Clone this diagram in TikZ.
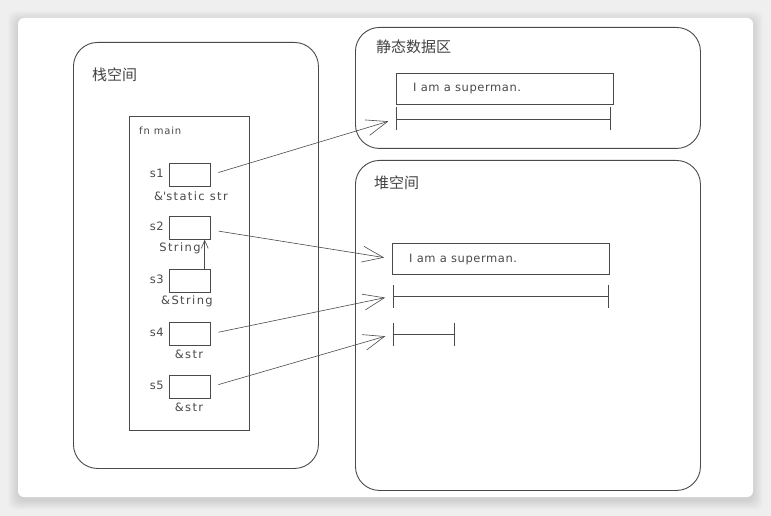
\documentclass[tikz,border=0pt]{standalone}
\usepackage{fontspec}
\setmainfont{DejaVu Sans}
\newfontfamily\cjk{Noto Sans CJK SC}
\usetikzlibrary{arrows.meta,calc}
\definecolor{ink}{HTML}{4A4A4A}
\definecolor{bg}{HTML}{EFEFEF}
\tikzset{
  region/.style={draw=ink, line width=0.9pt, rounded corners=24pt, anchor=north west, inner sep=0pt},
  framebox/.style={draw=ink, line width=0.7pt, anchor=north west, inner sep=0pt},
  slot/.style={draw=ink, line width=0.7pt, minimum width=41pt, minimum height=23pt, inner sep=0pt, anchor=north west},
  title/.style={font=\cjk\fontsize{15}{15}\selectfont, text=ink!90!black, anchor=west, inner sep=0pt},
  varname/.style={font=\fontsize{11.5}{11.5}\selectfont\addfontfeature{LetterSpace=5}, text=ink, anchor=east, inner sep=0pt},
  typename/.style={font=\fontsize{11.5}{11.5}\selectfont\addfontfeature{LetterSpace=12}, text=ink, inner sep=0pt},
  strtext/.style={font=\fontsize{11.5}{11.5}\selectfont\addfontfeature{LetterSpace=5}, text=ink, anchor=west, inner sep=0pt},
  span/.style={draw=ink, line width=0.7pt, {Bar[width=23pt]}-{Bar[width=23pt]}},
  ptr/.style={draw=ink, line width=0.6pt, -{Straight Barb[length=21pt,width=16pt,line width=0.6pt]}, shorten <=8pt, shorten >=8pt},
  smallptr/.style={draw=ink, line width=0.6pt, -{Straight Barb[length=8pt,width=7pt,line width=0.6pt]}}
}
\begin{document}
\begin{tikzpicture}[x=1pt,y=-1pt]
\useasboundingbox (0,0) rectangle (771,516);
\fill[bg] (0,0) rectangle (771,516);
\foreach \i in {1,...,10}{
  \fill[black,opacity=0.012,rounded corners=8pt] (18-\i,18-\i+3) rectangle (753+\i,497+\i+3);
}
\fill[white,rounded corners=6pt] (18,18) rectangle (753,497);

% regions
\node[region, minimum width=245pt, minimum height=426pt] (stack) at (73,42) {};
\node[region, minimum width=345pt, minimum height=121pt] (static) at (355,27) {};
\node[region, minimum width=345pt, minimum height=330pt] (heap) at (355,160) {};

\node[title] (stacklbl) at (92,75) {栈空间};
\node[title] (staticlbl) at (376,47) {静态数据区};
\node[title] (heaplbl) at (374,183) {堆空间};

% fn main frame
\node[framebox, minimum width=120pt, minimum height=314pt] (fnmain) at (129,116) {};
\node[font=\fontsize{10}{10}\selectfont\addfontfeature{LetterSpace=8}, text=ink, anchor=west, inner sep=0pt] (fnlbl) at (139,131) {fn main};

% slots
\node[slot] (s1) at (169,163) {};
\node[slot] (s2) at (169,216) {};
\node[slot] (s3) at (169,269) {};
\node[slot] (s4) at (169,322) {};
\node[slot] (s5) at (169,375) {};

\node[varname] (n1) at (164,173) {s1};
\node[varname] (n2) at (164,226) {s2};
\node[varname] (n3) at (164,279) {s3};
\node[varname] (n4) at (164,332) {s4};
\node[varname] (n5) at (164,385) {s5};

\node[typename] (t1) at (191,196) {\&\textquotesingle static str};
\node[typename] (t2) at (180,248) {String};
\node[typename] (t3) at (187,301) {\&String};
\node[typename] (t4) at (189,354) {\&str};
\node[typename] (t5) at (189,407) {\&str};

% static data
\node[framebox, minimum width=217pt, minimum height=31pt] (sbox) at (396,73) {};
\node[strtext] (stxt) at (413,89) {I am a superman.};
\coordinate (sa) at (396,119);
\coordinate (sb) at (611,119);
\draw[span] (sa) -- (sb);

% heap
\node[framebox, minimum width=217pt, minimum height=31pt] (hbox) at (392,243) {};
\node[strtext] (htxt) at (409,260) {I am a superman.};
\coordinate (ha) at (393,296);
\coordinate (hb) at (609,296);
\draw[span] (ha) -- (hb);
\coordinate (ca) at (393,334);
\coordinate (cb) at (455,334);
\draw[span] (ca) -- (cb);

% pointers
\draw[ptr] (s1.east) -- (sa);
\draw[ptr] ($(s2.east)+(0,2)$) -- (hbox.west);
\draw[ptr] (s4.east) -- (ha);
\draw[ptr] (s5.east) -- (ca);
\draw[smallptr] ($(s3.north east)+(-6,0)$) -- ($(s2.south east)+(-6,0)$);
\end{tikzpicture}
\end{document}
